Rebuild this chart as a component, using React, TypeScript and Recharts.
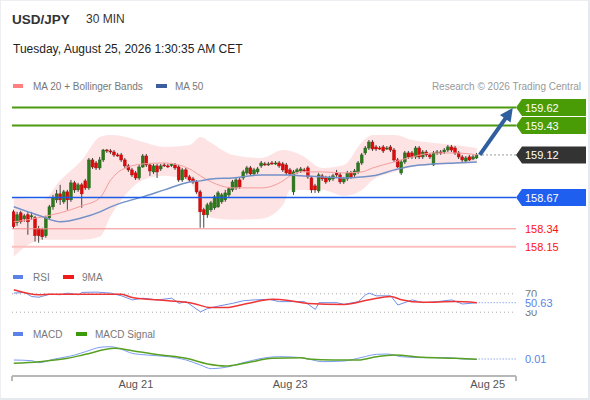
import React from 'react';
import { ComposedChart, Bar, Line, Area, XAxis, YAxis, ReferenceLine } from 'recharts';

const FONT = 'Arial, "Liberation Sans", Helvetica, sans-serif';

// ---------- candles (30 min) ----------
const opens = [158.519,158.404,158.509,158.446,158.488,158.467,158.456,158.341,158.330,158.267,158.456,158.572,158.646,158.709,158.625,158.730,158.646,158.825,158.751,158.804,158.846,158.772,159.067,159.035,158.983,159.067,159.172,159.162,159.151,159.120,159.120,159.067,159.004,158.962,158.930,158.877,158.993,159.109,159.014,158.941,159.004,158.972,159.014,159.004,159.014,159.014,158.993,158.856,158.962,158.888,158.867,158.835,158.730,158.541,158.488,158.541,158.562,158.572,158.625,158.646,158.698,158.751,158.772,158.856,158.877,158.930,158.983,158.920,158.941,159.004,159.025,159.020,159.035,159.030,159.035,159.025,159.014,158.962,158.730,158.941,158.951,158.962,158.983,158.877,158.793,158.740,158.899,158.877,158.856,158.867,158.930,158.909,158.835,158.867,158.930,158.909,158.941,159.035,159.141,159.193,159.256,159.204,159.193,159.204,159.188,159.204,159.172,159.067,158.930,159.046,159.141,159.141,159.099,159.193,159.099,159.151,159.120,159.014,159.141,159.151,159.151,159.172,159.204,159.193,159.141,159.099,159.056,159.099,159.077,159.088];
const closes = [158.362,158.488,158.414,158.477,158.414,158.477,158.267,158.267,158.256,158.456,158.572,158.667,158.709,158.646,158.730,158.646,158.825,158.751,158.804,158.709,158.772,159.067,158.993,158.983,159.067,159.172,159.162,159.151,159.120,159.115,159.067,159.004,158.962,158.909,158.877,158.993,159.109,159.014,158.951,159.004,158.941,159.004,159.010,158.999,159.019,158.983,158.856,158.962,158.888,158.856,158.835,158.730,158.519,158.488,158.593,158.614,158.677,158.719,158.698,158.719,158.762,158.835,158.856,158.783,158.941,158.983,158.920,158.962,158.972,159.035,159.020,159.025,159.030,159.035,159.004,158.962,158.930,158.920,158.941,158.962,158.972,158.958,158.888,158.751,158.751,158.909,158.867,158.835,158.877,158.899,158.909,158.835,158.867,158.930,158.888,158.951,159.035,159.120,159.193,159.256,159.183,159.183,159.188,159.162,159.193,159.172,159.067,158.993,159.046,159.141,159.099,159.099,159.193,159.099,159.151,159.120,159.099,159.141,159.151,159.141,159.172,159.204,159.172,159.141,159.099,159.067,159.088,159.067,159.099,159.120];
const highs = [158.541,158.519,158.530,158.498,158.519,158.519,158.477,158.372,158.351,158.477,158.593,158.698,158.751,158.804,158.751,158.751,158.856,158.846,158.825,158.825,158.867,159.088,159.088,159.056,159.099,159.183,159.183,159.183,159.172,159.141,159.141,159.088,159.025,158.983,158.951,159.014,159.130,159.130,159.035,159.025,159.025,159.025,159.035,159.025,159.035,159.035,159.014,158.983,158.983,158.909,158.888,158.856,158.751,158.562,158.614,158.635,158.698,158.740,158.719,158.751,158.783,158.856,158.877,158.877,158.962,159.004,159.004,158.983,158.993,159.056,159.046,159.046,159.056,159.056,159.056,159.046,159.035,158.983,158.962,158.983,158.993,158.983,159.004,158.899,158.814,158.930,158.920,158.899,158.899,158.920,158.962,158.930,158.888,158.951,158.951,158.972,159.056,159.141,159.214,159.277,159.277,159.225,159.214,159.225,159.214,159.225,159.193,159.088,159.067,159.162,159.162,159.162,159.214,159.214,159.172,159.172,159.141,159.162,159.172,159.172,159.193,159.225,159.225,159.214,159.162,159.120,159.109,159.120,159.120,159.141];
const lows = [158.341,158.372,158.393,158.414,158.277,158.435,158.204,158.193,158.225,158.246,158.435,158.541,158.614,158.593,158.604,158.541,158.625,158.719,158.730,158.562,158.751,158.751,158.972,158.962,158.962,159.046,159.141,159.130,159.099,159.099,159.046,158.983,158.941,158.888,158.856,158.856,158.983,158.993,158.899,158.920,158.877,158.951,158.993,158.983,158.993,158.962,158.835,158.835,158.867,158.835,158.814,158.709,158.351,158.351,158.456,158.519,158.541,158.562,158.604,158.625,158.677,158.730,158.751,158.762,158.856,158.909,158.899,158.899,158.920,158.983,159.004,159.004,159.014,159.014,158.983,158.941,158.909,158.899,158.698,158.920,158.930,158.941,158.867,158.719,158.719,158.719,158.846,158.814,158.835,158.846,158.888,158.814,158.814,158.846,158.867,158.888,158.920,159.014,159.120,159.172,159.162,159.162,159.172,159.141,159.172,159.151,159.046,158.983,158.909,159.025,159.077,159.077,159.077,159.077,159.077,159.099,159.077,159.004,159.120,159.120,159.130,159.151,159.151,159.120,159.077,159.046,159.046,159.056,159.067,159.077];

// ---------- MA 20 + Bollinger bands, MA 50 (read at sample candles) ----------
const bandIdx = [0,4,8,13,19,24,27,30,36,42,49,52,55,61,69,75,77,80,86,92,97,100,106,111,117,123,129];
const bandUpper = [158.667,158.656,158.646,158.856,159.067,159.309,159.330,159.320,159.256,159.204,159.225,159.309,159.246,159.120,159.088,159.172,159.162,159.120,158.983,159.014,159.256,159.330,159.330,159.277,159.246,159.225,159.193];
const bandLower = [158.046,158.172,158.225,158.225,158.225,158.256,158.477,158.646,158.856,158.899,158.835,158.593,158.456,158.435,158.446,158.593,158.751,158.751,158.751,158.688,158.751,158.856,158.941,158.993,159.014,159.025,159.035];
const ma20 = [158.414,158.435,158.467,158.509,158.583,158.667,158.856,158.962,159.025,159.035,158.972,158.899,158.835,158.772,158.772,158.846,158.899,158.941,158.941,158.930,158.941,158.983,159.046,159.099,159.141,159.141,159.120];
const ma50 = [158.572,158.519,158.467,158.414,158.456,158.519,158.572,158.614,158.677,158.751,158.835,158.846,158.867,158.877,158.909,158.909,158.909,158.899,158.888,158.877,158.888,158.899,158.962,159.004,159.025,159.035,159.046];

// ---------- RSI ----------
const rsiIdx = [0,3,5,7,10,13,15,18,19,23,27,30,33,36,40,44,46,48,52,54,57,61,64,67,71,74,78,81,84,85,90,92,96,98,99,101,105,107,111,114,118,122,125,129];
const rsiVals = [71.5,73,64,62.6,69,68,71.5,67.8,73,73.7,71.5,65.6,56.7,60.4,56.7,60.4,49.3,53,30.7,38,43.3,49.3,55,56.7,58,53,53,53,36,50.7,50.7,47,53,67.8,71.5,65.6,65.6,45.6,56.7,50.7,53,56.7,47.8,50.63];
const rsiMaIdx = [0,7,10,20,30,33,43,50,55,59,65,72,77,82,92,99,105,108,114,123,129];
const rsiMaVals = [79,68,69,69,69,62,55,49,40,40,49,58,55,49,47,57,64,57,51.5,53,50.7];

// ---------- MACD ----------
const macdIdx = [0,5,7,11,17,20,24,27,30,33,37,43,48,52,55,59,65,71,74,80,82,86,92,97,101,104,108,114,121,125,129];
const macdVals = [0.007,0.005,-0.001,0.009,0.022,0.032,0.045,0.047,0.039,0.027,0.022,0.017,0.007,-0.008,-0.019,-0.015,0.002,0.015,0.017,0.014,0.010,0.002,0.004,0.015,0.024,0.025,0.017,0.014,0.014,0.010,0.009];
const sigIdx = [0,7,15,20,28,33,41,48,54,59,65,72,80,82,89,96,101,106,114,123,129];
const sigVals = [-0.003,0.002,0.012,0.024,0.042,0.035,0.022,0.012,-0.005,-0.011,-0.001,0.012,0.014,0.010,0.007,0.007,0.017,0.022,0.015,0.012,0.009];

// ---------- levels & labels ----------
const resistance = [159.62, 159.43];
const lastPrice = 159.12;
const pivot = 158.67;
const supports = [158.34, 158.15];
const target = 159.615;
const rsiLast = 50.63;
const macdLast = 0.01;
const xTickIdx = [34, 77, 132];
const xTickLabels = ['Aug 21', 'Aug 23', 'Aug 25'];

const X_DOMAIN: [number, number] = [-0.5, 139.9];
const lastIdx = closes.length - 1;

const candleRows = closes.map((c, i) => ({ i, open: opens[i], high: highs[i], low: lows[i], close: c }));
const pairs = (idx: number[], vals: number[]) => idx.map((i, k) => ({ i, v: vals[k] }));
const bandRows = bandIdx.map((i, k) => ({ i, lo: bandLower[k], up: bandUpper[k] }));

const Candle = (p: any) => {
  const { x, y, width, height, payload } = p;
  if (!payload || height == null) return null;
  const top = Math.min(y, y + height);
  const h = Math.abs(height);
  const range = payload.high - payload.low || 1;
  const k = h / range;
  const yo = top + (payload.high - payload.open) * k;
  const yc = top + (payload.high - payload.close) * k;
  const bt = Math.min(yo, yc);
  const bh = Math.max(Math.abs(yo - yc), 1);
  const up = payload.close >= payload.open;
  const cx = x + width / 2;
  const col = up ? '#2c7a1a' : '#e10a0a';
  return (
    <g>
      <line x1={cx} x2={cx} y1={top} y2={top + h} stroke="#444" strokeWidth={1} />
      <rect x={cx - 1.4} y={bt} width={2.8} height={bh} fill={col} stroke={up ? '#25601a' : '#b00808'} strokeWidth={0.5} />
    </g>
  );
};

const tagLabel = (text: string, bg: string) => (p: any) => {
  const vb = p.viewBox || {};
  const x = vb.x + vb.width;
  const y = vb.y;
  return (
    <g>
      <polygon points={`${x},${y} ${x + 6},${y - 8.5} ${x + 70},${y - 8.5} ${x + 70},${y + 8.5} ${x + 6},${y + 8.5}`} fill={bg} />
      <text x={x + 9} y={y + 4} fill="#fff" fontSize={11} fontFamily={FONT}>{text}</text>
    </g>
  );
};

const textLabel = (text: string, color: string, boxed = false) => (p: any) => {
  const vb = p.viewBox || {};
  const x = vb.x + vb.width;
  const y = vb.y;
  return (
    <g>
      {boxed ? <rect x={x + 6} y={y - 6} width={34} height={13.5} fill="#fff" /> : null}
      <text x={x + 9} y={y + 4} fill={color} fontSize={11} fontFamily={FONT}>{text}</text>
    </g>
  );
};

const ArrowShape = (p: any) => {
  const { x1, y1, x2, y2 } = p;
  const dx = x2 - x1, dy = y2 - y1;
  const len = Math.hypot(dx, dy) || 1;
  const ux = dx / len, uy = dy / len;
  const hl = 13, hw = 6.5;
  const bx = x2 - ux * hl, by = y2 - uy * hl;
  const px = -uy, py = ux;
  return (
    <g>
      <line x1={x1} y1={y1} x2={bx + ux} y2={by + uy} stroke="#2f5f9f" strokeWidth={4} />
      <polygon points={`${x2},${y2} ${bx + px * hw},${by + py * hw} ${bx - px * hw},${by - py * hw}`} fill="#2f5f9f" />
    </g>
  );
};

const AxisTick = (p: any) => {
  const { x, y, payload } = p;
  const k = xTickIdx.indexOf(payload.value);
  if (k < 0) {
    return <line x1={x} x2={x} y1={y - 8} y2={y - 3} stroke="#b8b8b8" strokeWidth={2} />;
  }
  return <text x={x} y={y + 4} textAnchor="middle" fill="#555" fontSize={11} fontFamily={FONT}>{xTickLabels[k]}</text>;
};

const abs = (top: number): React.CSSProperties => ({ position: 'absolute', left: 0, top });

export default function App() {
  return (
    <div style={{ position: 'absolute', left: 0, top: 0, width: 590, height: 400, background: '#fff', fontFamily: FONT, overflow: 'hidden' }}>
      {/* main price panel */}
      <div style={abs(0)}>
        <ComposedChart width={590} height={261} data={candleRows} margin={{ top: 100, right: 74, left: 12, bottom: 0 }}>
          <XAxis dataKey="i" type="number" domain={X_DOMAIN} allowDataOverflow hide />
          <YAxis type="number" domain={[158.0, 159.7]} allowDataOverflow hide />
          <Area data={bandRows} dataKey={(d: any) => [d.lo, d.up]} type="monotone" stroke="none" fill="#fbbdbd" fillOpacity={0.42} isAnimationActive={false} />
          <Line data={pairs(bandIdx, ma20)} dataKey="v" type="monotone" stroke="#f59c9c" strokeWidth={1} dot={false} isAnimationActive={false} />
          <Line data={pairs(bandIdx, ma50)} dataKey="v" type="monotone" stroke="#7391c8" strokeWidth={1.5} dot={false} isAnimationActive={false} />
          <ReferenceLine y={resistance[0]} stroke="#4c9a0e" strokeWidth={2} label={tagLabel(resistance[0].toFixed(2), '#4a9c06')} />
          <ReferenceLine y={resistance[1]} stroke="#4c9a0e" strokeWidth={2} label={tagLabel(resistance[1].toFixed(2), '#4a9c06')} />
          <ReferenceLine y={pivot} stroke="#1a5be8" strokeWidth={1.5} label={tagLabel(pivot.toFixed(2), '#1e5ff0')} />
          <ReferenceLine y={supports[0]} stroke="#f08c8c" strokeWidth={1} label={textLabel(supports[0].toFixed(2), '#ff1010')} />
          <ReferenceLine y={supports[1]} stroke="#fcc0c0" strokeWidth={2} label={textLabel(supports[1].toFixed(2), '#ff1010')} />
          <ReferenceLine segment={[{ x: lastIdx + 1.5, y: lastPrice }, { x: X_DOMAIN[1], y: lastPrice }]} stroke="#777" strokeDasharray="1.5 2.5" label={tagLabel(lastPrice.toFixed(2), '#333333')} />
          <Bar dataKey={(d: any) => [d.low, d.high]} barSize={3} shape={(p: any) => <Candle {...p} />} isAnimationActive={false} />
          <ReferenceLine segment={[{ x: lastIdx + 0.8, y: lastPrice }, { x: 139, y: target }]} shape={(p: any) => <ArrowShape {...p} />} />
        </ComposedChart>
      </div>

      {/* RSI panel */}
      <div style={abs(280)}>
        <ComposedChart width={590} height={46} margin={{ top: 0, right: 74, left: 12, bottom: 0 }}>
          <XAxis dataKey="i" type="number" domain={X_DOMAIN} allowDataOverflow hide />
          <YAxis type="number" domain={[0, 100]} allowDataOverflow hide />
          <ReferenceLine y={70} stroke="#aaa" strokeDasharray="1 3" label={textLabel('70', '#777')} />
          <ReferenceLine y={30} stroke="#aaa" strokeDasharray="1 3" label={textLabel('30', '#777')} />
          <Line data={pairs(rsiIdx, rsiVals)} dataKey="v" type="linear" stroke="#6f8fe6" strokeWidth={1} dot={false} isAnimationActive={false} />
          <Line data={pairs(rsiMaIdx, rsiMaVals)} dataKey="v" type="monotone" stroke="#ef3535" strokeWidth={1.5} dot={false} isAnimationActive={false} />
          <ReferenceLine segment={[{ x: lastIdx + 0.5, y: rsiLast }, { x: X_DOMAIN[1], y: rsiLast }]} stroke="#5b82e6" strokeDasharray="1 2" label={textLabel(rsiLast.toFixed(2), '#5b82e6', true)} />
        </ComposedChart>
      </div>

      {/* MACD panel */}
      <div style={abs(340)}>
        <ComposedChart width={590} height={60} margin={{ top: 0, right: 74, left: 12, bottom: 0 }}>
          <XAxis dataKey="i" type="number" domain={X_DOMAIN} allowDataOverflow ticks={[X_DOMAIN[0], ...xTickIdx, X_DOMAIN[1]]} interval={0}
            tickLine={{ stroke: 'none' }} tickSize={6} tickMargin={2} axisLine={{ stroke: '#b8b8b8', strokeWidth: 2 }} height={24} tick={(p: any) => <AxisTick {...p} />} />
          <YAxis type="number" domain={[-0.041, 0.067]} allowDataOverflow hide />
          <Line data={pairs(macdIdx, macdVals)} dataKey="v" type="monotone" stroke="#7b9cf0" strokeWidth={1} dot={false} isAnimationActive={false} />
          <Line data={pairs(sigIdx, sigVals)} dataKey="v" type="monotone" stroke="#58a022" strokeWidth={1.5} dot={false} isAnimationActive={false} />
          <ReferenceLine segment={[{ x: lastIdx + 0.5, y: macdLast }, { x: X_DOMAIN[1], y: macdLast }]} stroke="#5b82e6" strokeDasharray="1 2" label={textLabel(macdLast.toFixed(2), '#5b82e6')} />
        </ComposedChart>
      </div>

      {/* header, legends */}
      <svg width={590} height={400} style={{ position: 'absolute', left: 0, top: 0, pointerEvents: 'none' }} fontFamily={FONT}>
        <text x={12} y={24} fontSize={13.5} fontWeight="bold" fill="#333">USD/JPY</text>
        <text x={86} y={23} fontSize={12} fill="#333">30 MIN</text>
        <text x={13} y={52.5} fontSize={12} fill="#222">Tuesday, August 25, 2026 1:30:35 AM CET</text>
        <rect x={13} y={84} width={10} height={4} fill="#ff8080" />
        <text x={33} y={89.5} fontSize={10} fill="#777">MA 20 + Bollinger Bands</text>
        <rect x={156} y={84} width={11} height={4} fill="#3c5e9e" />
        <text x={175} y={89.5} fontSize={10} fill="#777">MA 50</text>
        <text x={581} y={89.5} fontSize={10} fill="#999" textAnchor="end">Research © 2026 Trading Central</text>
        <rect x={13} y={275} width={10} height={4} fill="#5b82e6" />
        <text x={33} y={280.5} fontSize={10} fill="#777">RSI</text>
        <rect x={63} y={275} width={11} height={4} fill="#ee1c1c" />
        <text x={82} y={280.5} fontSize={10} fill="#777">9MA</text>
        <rect x={13} y={332} width={10} height={4} fill="#5b82e6" />
        <text x={33} y={338} fontSize={10} fill="#777">MACD</text>
        <rect x={76} y={332} width={11} height={4} fill="#3d9a0c" />
        <text x={95} y={338} fontSize={10} fill="#777">MACD Signal</text>
      </svg>
      <div style={{ position: 'absolute', left: 0, top: 0, width: 590, height: 400, boxSizing: 'border-box', borderTop: '1px solid #eceef2', borderLeft: '1px solid #eceef2', borderRight: '2px solid #e6e9ee', borderBottom: '2px solid #e6e9ee', pointerEvents: 'none' }} />
    </div>
  );
}
